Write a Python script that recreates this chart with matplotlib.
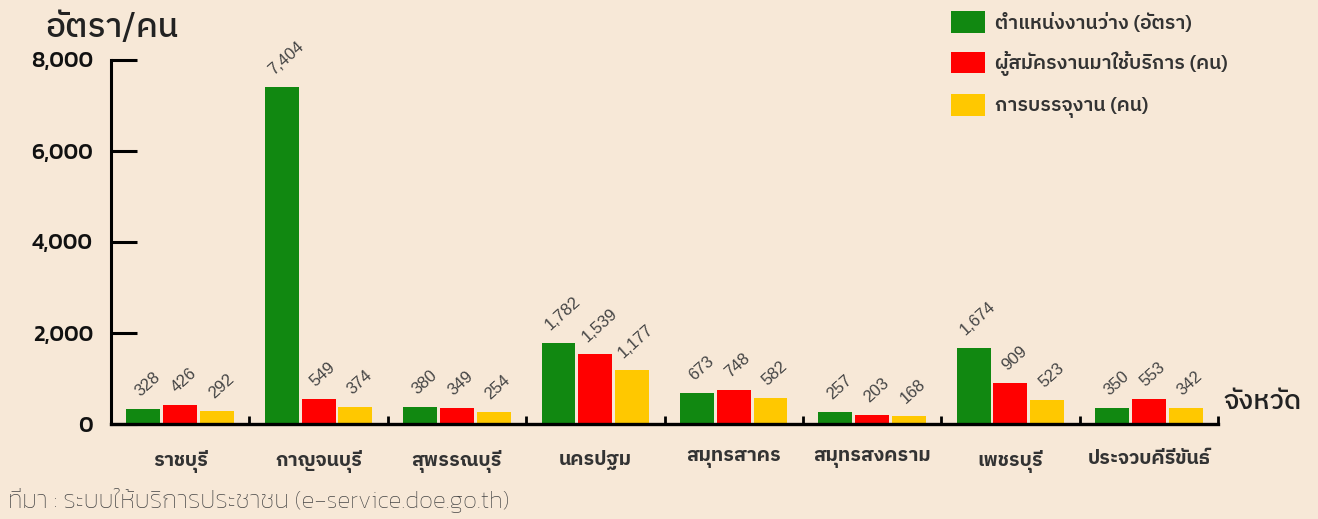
import matplotlib
matplotlib.use("Agg")
import matplotlib.pyplot as plt
import matplotlib.ticker as mticker
from matplotlib.patches import Patch
import numpy as np

# data
provinces = ["ราชบุรี", "กาญจนบุรี", "สุพรรณบุรี", "นครปฐม",
             "สมุทรสาคร", "สมุทรสงคราม", "เพชรบุรี", "ประจวบคีรีขันธ์"]
vacancies = [328, 7404, 380, 1782, 673, 257, 1674, 350]
applicants = [426, 549, 349, 1539, 748, 203, 909, 553]
placements = [292, 374, 254, 1177, 582, 168, 523, 342]
series_names = ["ตำแหน่งงานว่าง (อัตรา)", "ผู้สมัครงานมาใช้บริการ (คน)", "การบรรจุงาน (คน)"]
y_ticks = [0, 2000, 4000, 6000, 8000]

colors = ["#118811", "#ff0000", "#ffc800"]
bg = "#f7e8d7"
plex = ["IBM Plex Sans Thai", "Noto Sans"]
kanit = ["Kanit", "Noto Sans"]

fig = plt.figure(figsize=(13.18, 5.19), dpi=100, facecolor=bg)
ax = fig.add_axes([111 / 1318, 95 / 519, 1107 / 1318, 364 / 519])
ax.set_facecolor(bg)

x = np.arange(len(provinces)) + 0.5
step = 0.266
width = 0.245
for k, vals in enumerate([vacancies, applicants, placements]):
    pos = x + (k - 1) * step
    ax.bar(pos, vals, width=width, color=colors[k], zorder=2)
    for px, v in zip(pos, vals):
        ax.annotate(f"{v:,}", (px, v), xytext=(3, 7), textcoords="offset points",
                    ha="center", va="bottom", rotation=42, fontsize=12,
                    color="#444444", family=["Liberation Sans"])

ax.set_xlim(0, 8)
ax.set_ylim(0, 8000)
for s in ["top", "right"]:
    ax.spines[s].set_visible(False)
ax.spines["left"].set_linewidth(2.2)
ax.spines["bottom"].set_linewidth(2.4)
ax.spines["left"].set_zorder(3)
ax.spines["bottom"].set_zorder(3)

ax.set_yticks(y_ticks)
ax.yaxis.set_major_formatter(mticker.FuncFormatter(lambda v, p: f"{int(v):,}"))
ax.tick_params(axis="y", direction="in", length=19, width=2.2, pad=13,
               labelsize=16, labelcolor="#111111")
for lab in ax.get_yticklabels():
    lab.set_family(kanit)
    lab.set_fontweight("medium")

ax.set_xticks(x)
ax.set_xticklabels(provinces)
ax.tick_params(axis="x", which="major", length=0, pad=19, labelsize=14, labelcolor="#333333")
for lab in ax.get_xticklabels():
    lab.set_family(plex)
    lab.set_fontweight("bold")
ax.set_xticks(np.arange(1, 9), minor=True)
ax.tick_params(axis="x", which="minor", direction="in", length=6, width=2)

fig.text(45 / 1318, 1 - 28 / 519, "อัตรา/คน", fontsize=24, family=plex, fontweight="medium",
         color="#222222", va="center", ha="left")
fig.text(1224 / 1318, 1 - 402 / 519, "จังหวัด", fontsize=19.5, family=plex, fontweight="medium",
         color="#222222", va="center", ha="left")
fig.text(8 / 1318, 1 - 500 / 519, "ที่มา : ระบบให้บริการประชาชน (e-service.doe.go.th)",
         fontsize=18, family=kanit, fontweight="light", color="#454545",
         va="center", ha="left")

handles = [Patch(facecolor=c, edgecolor="none") for c in colors]
leg = fig.legend(handles, series_names, loc="upper left", bbox_to_anchor=(933 / 1318, 1.012),
                 frameon=False, handlelength=1.75, handleheight=1.35, handletextpad=0.55,
                 labelspacing=0.92, prop={"family": plex, "size": 14, "weight": "semibold"})
for t in leg.get_texts():
    t.set_color("#333333")

fig.savefig("out.png", facecolor=bg)
